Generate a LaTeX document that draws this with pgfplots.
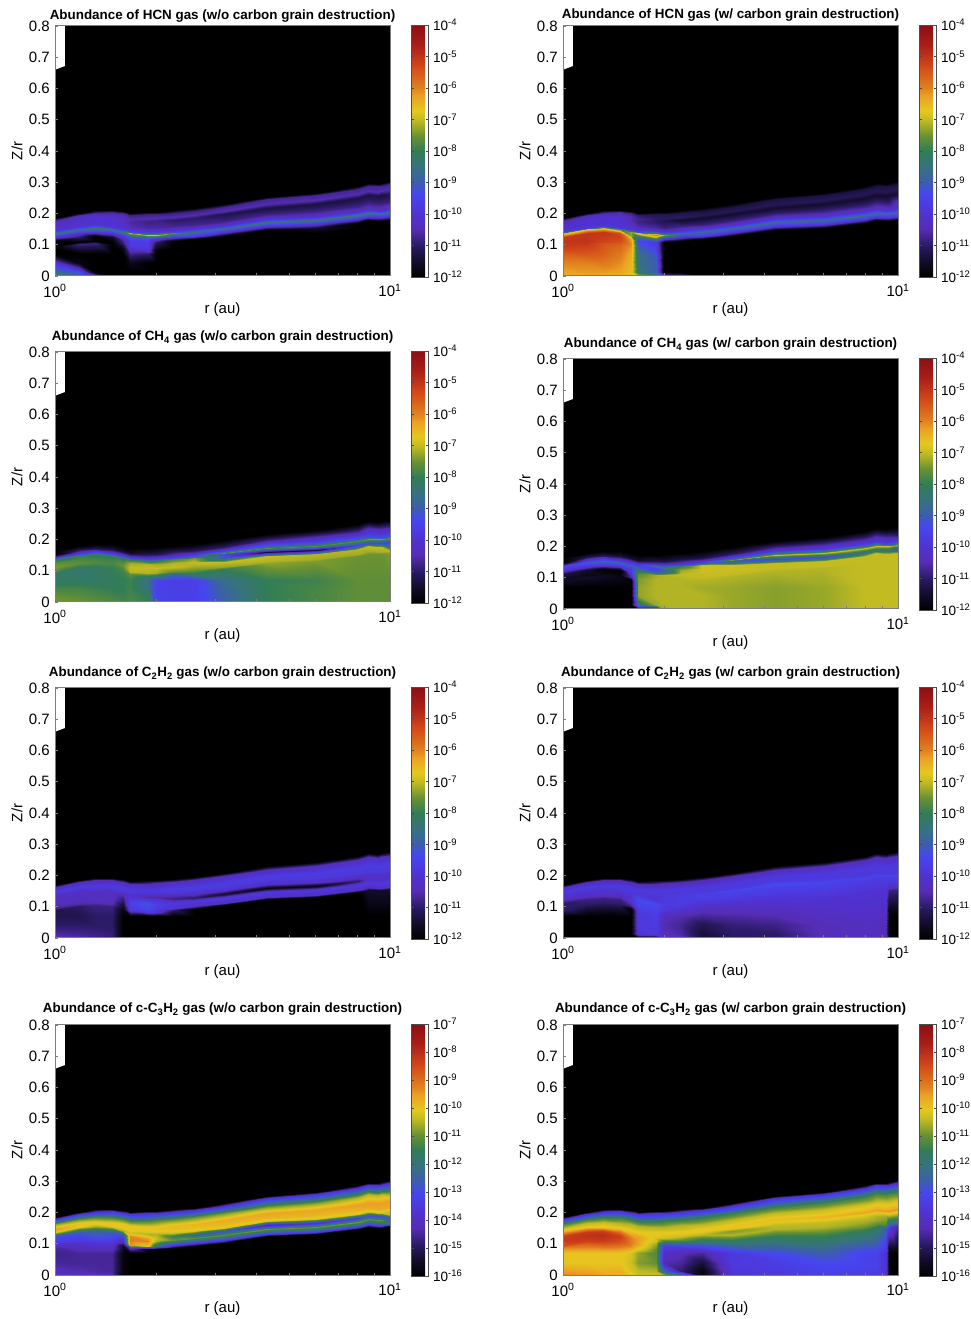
\documentclass[border=0pt]{standalone}
\usepackage{fontspec}
\setmainfont{Liberation Sans}
\usepackage{pgfplots}
\usepackage{pgfplotstable}
\pgfplotsset{compat=1.18}
\pgfplotstableread{
r z a b c d e f g h
1 0 -8.5 -6.4 -7.5 -12 -10.2 -12 -13.8 -9.3
1 .012 -8.6 -6.3 -7.5 -12 -10.6 -12 -14.1 -9.5
1 .04 -10 -6 -7.8 -12 -11 -12 -14.5 -10
1 .07 -12 -5.6 -8.2 -12 -11.2 -12 -14.6 -10
1 .088 -12 -5.2 -8.2 -11.6 -11.2 -11 -14.5 -9.3
1 .096 -12 -5.1 -7.9 -11.6 -10.7 -11 -14 -8.5
1 .112 -12 -5 -7.4 -11.3 -10.3 -11 -13.3 -8.2
1 .124 -10 -5.1 -7.6 -10 -10.3 -10.3 -13 -8.3
1 .136 -8.3 -7.2 -8.3 -9.5 -10.2 -10 -10.6 -9.2
1 .142 -9.5 -9.7 -9.6 -10.5 -10 -9.9 -9.7 -9.8
1 .148 -10 -10 -11 -12 -9.8 -9.8 -9.5 -10.2
1 .151 -10.1 -10.1 -11.8 -12 -9.8 -9.8 -9.7 -10.4
1 .163 -10.2 -10.2 -12 -12 -10.4 -10.5 -10.8 -11.3
1 .170 -10.3 -10.3 -12 -12 -12 -12 -12 -12.5
1 .178 -10.7 -10.7 -12 -12 -12 -12 -13.8 -13.8
1 .186 -12 -12 -12 -12 -12 -12 -16 -16
1.18 0 -8.8 -6.4 -7.5 -12 -10.5 -12 -14 -9.4
1.18 .012 -9.3 -6.2 -7.6 -12 -10.7 -12 -14.3 -9.6
1.18 .04 -11.8 -6 -7.8 -12 -11 -12 -14.5 -10
1.18 .07 -12 -5.5 -8.2 -12 -11.2 -12 -14.5 -10
1.18 .101 -10.8 -5.1 -8.3 -11.5 -11 -11.2 -13.8 -8.7
1.18 .109 -12 -5 -8.2 -11.7 -10.6 -11 -13.5 -8.3
1.18 .125 -11 -5 -7.6 -11.5 -10.3 -10.8 -13.2 -8.1
1.18 .137 -10 -5 -7.8 -9.9 -10.3 -10.2 -12.6 -8.2
1.18 .149 -8.2 -6.8 -8 -9 -10.2 -10 -10.6 -9.6
1.18 .155 -9.5 -9.7 -9.5 -9.6 -10 -9.9 -10.1 -10
1.18 .161 -10 -10 -10.3 -10.3 -9.8 -9.8 -10 -10.2
1.18 .165 -10 -10 -11 -11.2 -9.8 -9.8 -10 -10.4
1.18 .178 -10.1 -10 -12 -12 -10.4 -10.5 -11 -11.4
1.18 .185 -10.2 -10.1 -12 -12 -12 -12 -12.2 -12.5
1.18 .194 -10.6 -10.6 -12 -12 -12 -12 -13.8 -13.8
1.18 .202 -12 -12 -12 -12 -12 -12 -16 -16
1.32 0 -10 -6.4 -7.6 -12 -10.7 -12 -14.2 -9.5
1.32 .012 -12 -6.2 -7.7 -12 -10.8 -12 -14.4 -9.8
1.32 .04 -12 -5.9 -7.9 -12 -11 -12 -14.5 -10
1.32 .07 -12 -5.6 -8.2 -12 -11 -12 -14.5 -10
1.32 .105 -10.8 -5.4 -8.2 -11.6 -10.8 -11.2 -13.6 -8.4
1.32 .113 -12 -5.2 -8.1 -11.7 -10.5 -11 -13.3 -8.2
1.32 .129 -12 -5.1 -7.7 -12 -10.2 -10.8 -12.7 -8
1.32 .141 -10 -5 -7.9 -9.9 -10.3 -10.2 -12.5 -8.3
1.32 .153 -8.2 -6.8 -8.1 -8.8 -10.2 -10 -10.8 -10
1.32 .159 -9.5 -9.7 -9.5 -9.6 -10 -9.9 -10.3 -10.1
1.32 .165 -10 -10 -10.3 -10.3 -9.8 -9.8 -10 -10.3
1.32 .171 -10 -10 -11 -11 -9.8 -9.8 -10 -10.4
1.32 .186 -10 -10 -12 -12 -10.4 -10.5 -11.2 -11.5
1.32 .193 -10 -10.1 -12 -12 -12 -12 -12.5 -12.6
1.32 .203 -10.6 -10.6 -12 -12 -12 -12 -13.8 -13.8
1.32 .211 -12 -12 -12 -12 -12 -12 -16 -16
1.48 0 -12 -6.5 -7.7 -12 -10.9 -12 -14.3 -9.7
1.48 .012 -12 -6.3 -7.8 -12 -10.9 -12 -14.5 -9.7
1.48 .04 -12 -6.1 -8 -12 -11 -12 -14.5 -10
1.48 .07 -12 -5.9 -8.1 -12 -11 -12 -14.5 -10
1.48 .101 -12 -5.6 -8 -11.7 -10.8 -11.2 -13.7 -8.7
1.48 .109 -12 -5.4 -8 -11.8 -10.5 -11 -13.4 -8.5
1.48 .125 -11.5 -5.2 -7.8 -12 -10.3 -10.8 -12.9 -8.3
1.48 .137 -10 -5.4 -7.9 -9.9 -10.3 -10.2 -12.6 -9
1.48 .149 -8.2 -8 -8.2 -8.8 -10.2 -10 -10.8 -10
1.48 .155 -9.6 -9.8 -9.5 -9.7 -10 -9.9 -10.3 -10.1
1.48 .161 -10 -10 -10.3 -10.3 -9.8 -9.8 -10 -10.3
1.48 .168 -10 -10 -11.3 -11.3 -9.8 -9.8 -10 -10.5
1.48 .185 -10 -10 -12 -12 -10.4 -10.5 -11.3 -11.5
1.48 .193 -10.2 -10.1 -12 -12 -12 -12 -12.5 -12.6
1.48 .204 -10.7 -10.6 -12 -12 -12 -12 -13.8 -13.8
1.48 .212 -12 -12 -12 -12 -12 -12 -16 -16
1.6 0 -12 -6.7 -7.8 -12 -12 -12 -16 -10
1.6 .012 -12 -6.6 -7.9 -12 -12 -12 -15.8 -10.2
1.6 .04 -12 -6.5 -8 -12 -12 -12 -15.8 -10.3
1.6 .07 -12 -6.4 -8 -12 -12 -12 -15.8 -10.2
1.6 .093 -11.5 -6.2 -7.9 -12 -11.7 -12 -15.5 -9.3
1.6 .101 -11 -6.1 -7.8 -10.5 -11.5 -10.8 -14.5 -9.2
1.6 .117 -10.5 -6.3 -7.5 -9.8 -11 -10 -13.5 -9.2
1.6 .129 -10 -7.3 -7.7 -9.8 -10.8 -10 -13 -9.5
1.6 .141 -8.3 -7.3 -8.3 -9 -10.3 -10 -10.6 -10
1.6 .147 -9.6 -9.8 -9.6 -9.7 -10 -9.9 -10.2 -10.1
1.6 .153 -10 -10 -10.5 -10.4 -9.8 -9.8 -10 -10.3
1.6 .162 -10.2 -10.3 -11.5 -11.5 -9.8 -9.8 -10 -10.5
1.6 .179 -10.2 -10.5 -12 -12 -10.4 -10.5 -11.2 -11.6
1.6 .188 -10.3 -10.5 -12 -12 -12 -12 -12.5 -12.7
1.6 .2 -10.7 -10.8 -12 -12 -12 -12 -13.8 -13.8
1.6 .208 -12 -12 -12 -12 -12 -12 -16 -16
1.68 0 -12 -7 -7.7 -12 -12 -12 -16 -10.3
1.68 .012 -12 -8.2 -7.8 -8.5 -12 -10 -16 -10.4
1.68 .04 -11.7 -8.5 -7.9 -7.3 -12 -9.8 -16 -10.8
1.68 .07 -10.8 -8.6 -7.9 -7.3 -12 -9.8 -16 -10.7
1.68 .088 -10 -8.9 -7.6 -7.4 -9.9 -9.7 -14 -10
1.68 .096 -9.8 -9 -7.1 -7.4 -9.7 -9.6 -9.4 -9.6
1.68 .112 -9.7 -9.4 -7 -7.6 -9.6 -9.4 -9.2 -9.5
1.68 .124 -9.2 -8.5 -7.2 -8.4 -9.8 -9.3 -9.3 -9.6
1.68 .136 -7 -6.5 -8.2 -9.5 -10.2 -9.8 -10.3 -10
1.68 .142 -9.5 -9.5 -9.6 -9.7 -10 -9.9 -10.1 -10.1
1.68 .148 -10 -10 -10.5 -10.5 -9.8 -9.8 -10 -10.3
1.68 .156 -10.5 -10.5 -11.5 -11.5 -9.8 -9.8 -10 -10.5
1.68 .174 -10.6 -10.8 -12 -12 -10.4 -10.5 -11.2 -11.6
1.68 .182 -10.5 -10.7 -12 -12 -12 -12 -12.5 -12.7
1.68 .194 -10.8 -11 -12 -12 -12 -12 -13.8 -13.8
1.68 .202 -12 -12 -12 -12 -12 -12 -16 -16
1.9 0 -12 -7.5 -8 -12 -12 -12 -16 -10.3
1.9 .012 -12 -9 -8 -7.25 -12 -9.8 -16 -10.5
1.9 .04 -12 -9 -8.5 -7.1 -12 -9.7 -16 -11
1.9 .07 -11 -9.2 -8.6 -7.1 -12 -9.7 -16 -11.2
1.9 .084 -9.9 -9.5 -8 -7.1 -9.8 -9.6 -16 -11
1.9 .092 -9.7 -9.6 -7.1 -7.1 -9.4 -9.5 -10 -10.8
1.9 .108 -9.7 -9.8 -7 -7.2 -9.1 -9.3 -9.3 -10.3
1.9 .12 -9.2 -7.5 -7.1 -9.5 -9.8 -10 -9.6 -10.2
1.9 .132 -6.9 -5.8 -8.3 -9.5 -10.6 -10 -10.5 -10
1.9 .138 -9.5 -8 -9.6 -8.5 -10.3 -9.9 -10.2 -10.1
1.9 .144 -10 -10 -10.4 -10.2 -9.9 -9.8 -10 -10.3
1.9 .155 -10.6 -10.6 -11.2 -11.2 -9.8 -9.8 -10 -10.5
1.9 .174 -10.8 -11 -12 -12 -10.4 -10.5 -11.2 -11.6
1.9 .184 -10.5 -11 -12 -12 -12 -12 -12.5 -12.7
1.9 .197 -10.8 -11.2 -12 -12 -12 -12 -13.8 -13.8
1.9 .205 -12 -12 -12 -12 -12 -12 -16 -16
2 0 -12 -9.8 -9.4 -7.25 -12 -9.9 -16 -10.5
2 .012 -12 -12 -9.5 -7.1 -12 -10.4 -16 -12.5
2 .04 -12 -12 -9.5 -7.1 -12 -10.5 -16 -14.3
2 .07 -12 -12 -9.5 -7.1 -12 -10.4 -16 -14
2 .084 -12 -12 -8.3 -7.1 -10.1 -10 -16 -13.6
2 .092 -11.5 -12 -7.2 -7.1 -9.7 -9.8 -12 -13.5
2 .108 -11 -12 -7 -7.1 -9.6 -9.7 -10.5 -11.3
2 .12 -9.6 -9.5 -7.2 -9 -10 -9.8 -10.3 -10.3
2 .132 -6.9 -7.3 -8 -8.5 -10.6 -9.8 -10.5 -10.1
2 .138 -9.5 -9.5 -9.5 -9.3 -10.3 -9.8 -10.2 -10.1
2 .144 -10 -10.2 -10.3 -10.3 -9.9 -9.8 -10 -10.3
2 .155 -10.6 -10.8 -11.2 -11.3 -9.8 -9.8 -10 -10.5
2 .175 -10.8 -11.2 -12 -12 -10.4 -10.5 -11.2 -11.6
2 .185 -10.5 -11 -12 -12 -12 -12 -12.5 -12.7
2 .198 -10.8 -11.2 -12 -12 -12 -12 -13.8 -13.8
2 .206 -12 -12 -12 -12 -12 -12 -16 -16
2.25 0 -12 -10.5 -9.6 -7.1 -12 -10.3 -16 -12
2.25 .012 -12 -12 -9.6 -7.1 -12 -10.6 -16 -14.8
2.25 .04 -12 -12 -9.6 -7.1 -12 -10.7 -16 -14.5
2.25 .07 -12 -12 -9.6 -7.1 -12 -10.5 -16 -14.2
2.25 .088 -12 -12 -8.8 -7.1 -11 -10.1 -16 -13.6
2.25 .096 -12 -12 -7.6 -7.1 -10 -9.9 -13.5 -13
2.25 .112 -12 -12 -7 -7 -9.8 -9.7 -11 -11
2.25 .124 -9.8 -10 -7.1 -7.25 -10.8 -9.7 -11.5 -10.3
2.25 .136 -7.6 -8.5 -7.8 -8 -10.4 -9.7 -10.3 -10
2.25 .142 -9.6 -9.6 -9.4 -9.5 -10.1 -9.8 -10.1 -10.1
2.25 .148 -10.2 -10.2 -10.2 -10.3 -9.8 -9.8 -9.9 -10.3
2.25 .159 -10.7 -10.8 -11 -11.3 -9.7 -9.8 -9.9 -10.5
2.25 .179 -11 -11.5 -12 -12 -10.3 -10.5 -11.1 -11.6
2.25 .189 -10.5 -11 -12 -12 -12 -12 -12.4 -12.7
2.25 .202 -10.8 -11.2 -12 -12 -12 -12 -13.8 -13.8
2.25 .21 -12 -12 -12 -12 -12 -12 -16 -16
2.6 0 -12 -12 -9.6 -7.1 -12 -11.3 -16 -15.8
2.6 .012 -12 -12 -9.6 -7.1 -12 -11.4 -16 -15.8
2.6 .04 -12 -12 -9.6 -7.1 -12 -11.2 -16 -15.3
2.6 .07 -12 -12 -9.6 -7.2 -12 -10.7 -16 -14.5
2.6 .093 -12 -12 -8 -7.1 -12 -10.3 -16 -13
2.6 .101 -12 -12 -7.5 -7 -10.2 -10.1 -13.5 -12.2
2.6 .117 -12 -12 -7.1 -6.95 -9.8 -9.8 -11 -11.2
2.6 .129 -9.8 -9.9 -7 -6.9 -11 -9.6 -12.5 -10.5
2.6 .141 -8.6 -8.6 -7.4 -6.95 -10.3 -9.6 -10.2 -10
2.6 .147 -9.6 -9.5 -9.2 -9.4 -10 -9.8 -10 -10
2.6 .153 -10.2 -10.1 -10 -10.2 -9.8 -9.8 -9.9 -10.2
2.6 .164 -10.7 -10.8 -11 -11.2 -9.7 -9.8 -9.8 -10.5
2.6 .185 -11 -11.5 -12 -12 -10.3 -10.5 -11 -11.6
2.6 .195 -10.5 -11.1 -12 -12 -12 -12 -12.4 -12.7
2.6 .208 -10.8 -11.3 -12 -12 -12 -12 -13.8 -13.8
2.6 .216 -12 -12 -12 -12 -12 -12 -16 -16
3.2 0 -12 -12 -8.9 -7.25 -12 -11 -16 -13.6
3.2 .012 -12 -12 -8.9 -7.25 -12 -11 -16 -13.6
3.2 .04 -12 -12 -8.8 -7.25 -12 -10.9 -16 -13.5
3.2 .07 -12 -12 -8.6 -7.25 -12 -10.6 -16 -13.5
3.2 .104 -12 -12 -8 -7.1 -12 -10.2 -16 -12
3.2 .112 -12 -12 -7.3 -7 -10.2 -10 -13.5 -11.5
3.2 .128 -12 -12 -7 -6.95 -9.8 -9.8 -11 -10.5
3.2 .14 -10 -9.9 -9 -6.95 -11.5 -9.6 -13 -10.8
3.2 .152 -8.5 -8.6 -9.5 -9.4 -10.2 -9.4 -10.2 -10
3.2 .158 -9.6 -9.5 -7.5 -7.4 -10 -9.8 -10 -10
3.2 .164 -10.2 -10.1 -9.5 -9.5 -9.8 -9.8 -9.8 -10.1
3.2 .176 -10.8 -10.8 -11 -11 -9.7 -9.8 -9.7 -10.4
3.2 .197 -11.2 -11.5 -12 -12 -10.3 -10.5 -10.9 -11.5
3.2 .207 -10.5 -11.1 -12 -12 -12 -12 -12.3 -12.7
3.2 .221 -10.7 -11.3 -12 -12 -12 -12 -13.8 -13.8
3.2 .229 -12 -12 -12 -12 -12 -12 -16 -16
4.3 0 -12 -12 -8 -7.35 -12 -11 -16 -13.5
4.3 .012 -12 -12 -8 -7.35 -12 -11 -16 -13.5
4.3 .04 -12 -12 -8 -7.35 -12 -10.8 -16 -13.4
4.3 .07 -12 -12 -8 -7.35 -12 -10.5 -16 -13
4.3 .124 -12 -12 -7.3 -7.1 -12 -10 -16 -11.5
4.3 .132 -12 -12 -7.1 -7 -10.2 -9.9 -13.5 -11.2
4.3 .148 -12 -12 -7 -7 -9.8 -9.7 -10.9 -10.5
4.3 .16 -10 -9.9 -11.5 -9.5 -11.8 -9.6 -14.5 -10.4
4.3 .172 -8.3 -8.6 -7.6 -6.95 -10.2 -9.3 -10.2 -10
4.3 .178 -9.6 -9.5 -9 -8.5 -10 -9.6 -10 -9.9
4.3 .184 -10.2 -10.1 -9.6 -9.7 -9.8 -9.8 -9.8 -10
4.3 .198 -10.8 -10.8 -10.8 -10.8 -9.7 -9.8 -9.6 -10.4
4.3 .219 -11.3 -11.5 -12 -12 -10.3 -10.4 -10.8 -11.4
4.3 .23 -10.5 -11.1 -12 -12 -12 -12 -12.2 -12.6
4.3 .245 -10.7 -11.3 -12 -12 -12 -12 -13.8 -13.8
4.3 .253 -12 -12 -12 -12 -12 -12 -16 -16
6 0 -12 -12 -7.8 -7.25 -12 -10.4 -16 -13.3
6 .012 -12 -12 -7.8 -7.25 -12 -10.4 -16 -13.2
6 .04 -12 -12 -7.8 -7.25 -12 -10.4 -16 -13
6 .07 -12 -12 -7.9 -7.25 -12 -10.3 -16 -12.6
6 .131 -12 -12 -7.4 -7.1 -12 -10 -16 -11.3
6 .139 -12 -12 -7.2 -7 -10.2 -9.9 -13.5 -11
6 .155 -11.5 -12 -7.1 -7 -9.8 -9.7 -10.9 -10.5
6 .167 -10 -9.9 -11.5 -9.5 -11.8 -9.6 -14 -10.4
6 .179 -8.3 -8.6 -7.6 -6.95 -10.2 -9.4 -10.2 -10
6 .185 -9.6 -9.5 -8.8 -8.5 -10 -9.7 -10 -9.8
6 .191 -10.2 -10.1 -9.5 -9.7 -9.8 -9.8 -9.8 -10
6 .207 -10.8 -10.8 -10.5 -10.7 -9.7 -9.8 -9.6 -10.3
6 .23 -11.3 -11.5 -12 -12 -10.3 -10.4 -10.8 -11.3
6 .242 -10.5 -11.1 -12 -12 -12 -12 -12.2 -12.4
6 .258 -10.7 -11.3 -12 -12 -12 -12 -13.8 -13.8
6 .266 -12 -12 -12 -12 -12 -12 -16 -16
8 0 -12 -12 -7.6 -7 -12 -10.3 -16 -13.4
8 .012 -12 -12 -7.6 -7 -12 -10.3 -16 -13.3
8 .04 -12 -12 -7.6 -7 -12 -10.3 -16 -13.2
8 .07 -12 -12 -7.6 -7 -12 -10.2 -16 -13.2
8 .147 -12 -12 -7.5 -7 -12 -10 -16 -11.4
8 .155 -12 -12 -7.2 -7 -10.2 -9.9 -13.5 -11
8 .171 -12 -12 -7.1 -7 -9.8 -9.8 -10.8 -10.6
8 .183 -10 -9.9 -9.7 -8.5 -11 -9.7 -13.5 -10.4
8 .195 -8.3 -8.6 -7.6 -6.95 -10.2 -9.5 -10.2 -10
8 .201 -9.6 -9.5 -9 -8.5 -10 -9.8 -10 -9.6
8 .207 -10.2 -10.1 -9.6 -9.7 -9.8 -9.8 -9.8 -9.9
8 .224 -10.8 -10.8 -10.6 -10.6 -9.7 -9.8 -9.5 -10.2
8 .25 -11.3 -11.5 -12 -12 -10.3 -10.4 -10.6 -11.3
8 .262 -10.5 -11.1 -12 -12 -12 -12 -12 -12.3
8 .279 -10.7 -11.3 -12 -12 -12 -12 -13.8 -13.8
8 .287 -12 -12 -12 -12 -12 -12 -16 -16
8.6 0 -12 -12 -7.6 -7 -12 -10.3 -16 -13.4
8.6 .012 -12 -12 -7.6 -7 -12 -10.3 -16 -13.3
8.6 .04 -12 -12 -7.6 -7 -12 -10.3 -16 -13.2
8.6 .07 -12 -12 -7.6 -7 -12 -10.2 -16 -13.2
8.6 .154 -12 -12 -7.5 -7 -11.5 -10 -16 -11.6
8.6 .162 -12 -12 -7.2 -7 -10.2 -9.9 -13 -11
8.6 .178 -12 -12 -7 -7 -9.8 -9.8 -11 -10.6
8.6 .19 -10 -9.9 -9.5 -8.5 -10.2 -9.7 -13 -10.5
8.6 .202 -8.3 -8.6 -7.4 -6.95 -10.2 -9.5 -10.3 -10
8.6 .208 -9.6 -9.5 -9.2 -8.5 -10 -9.8 -10 -9.5
8.6 .214 -10.2 -10.1 -9.6 -9.7 -9.8 -9.8 -9.7 -9.8
8.6 .232 -10.8 -10.8 -10.3 -10.6 -9.7 -9.8 -9.5 -10.2
8.6 .258 -11.3 -11.5 -12 -12 -10.3 -10.4 -10.5 -11.2
8.6 .271 -10.5 -11.1 -12 -12 -12 -12 -12 -12.2
8.6 .288 -10.7 -11.3 -12 -12 -12 -12 -13.8 -13.8
8.6 .296 -12 -12 -12 -12 -12 -12 -16 -16
9.2 0 -12 -12 -7.6 -7 -12 -10.5 -16 -13.8
9.2 .012 -12 -12 -7.6 -7 -12 -10.5 -16 -13.8
9.2 .04 -12 -12 -7.6 -7 -12 -10.5 -16 -13.8
9.2 .07 -12 -12 -7.6 -7 -12 -10.3 -16 -13.8
9.2 .152 -12 -12 -7.5 -7 -11.5 -10 -16 -12.5
9.2 .16 -12 -12 -7.2 -7 -10.2 -9.9 -13 -11.2
9.2 .176 -12 -12 -7 -7 -9.8 -9.8 -11 -10.8
9.2 .188 -10 -9.9 -9.5 -8.5 -10.2 -9.7 -13 -10.6
9.2 .2 -8.3 -8.6 -7.4 -6.95 -10.2 -9.5 -10.3 -10
9.2 .206 -9.6 -9.5 -9.2 -8.5 -10 -9.8 -10 -9.5
9.2 .212 -10.2 -10.1 -9.6 -9.7 -9.8 -9.8 -9.7 -9.8
9.2 .23 -10.8 -10.8 -10.3 -10.6 -9.7 -9.8 -9.5 -10.2
9.2 .257 -11.3 -11.5 -12 -12 -10.3 -10.4 -10.5 -11.2
9.2 .27 -10.5 -11.1 -12 -12 -12 -12 -12 -12.2
9.2 .287 -10.7 -11.3 -12 -12 -12 -12 -13.8 -13.8
9.2 .295 -12 -12 -12 -12 -12 -12 -16 -16
9.4 0 -12 -12 -7.6 -7 -12 -12 -16 -16
9.4 .012 -12 -12 -7.6 -7 -12 -12 -16 -16
9.4 .04 -12 -12 -7.6 -7 -12 -12 -16 -16
9.4 .07 -12 -12 -7.6 -7 -12 -12 -16 -16
9.4 .152 -12 -12 -7.5 -7 -11.5 -10.8 -16 -13.5
9.4 .16 -12 -12 -7.2 -7 -10.2 -10.3 -13 -12.8
9.4 .176 -12 -12 -7 -7 -9.8 -9.9 -11 -11.5
9.4 .188 -10 -9.9 -9.5 -8.5 -10.2 -9.7 -13 -10.6
9.4 .2 -8.3 -8.6 -7.4 -6.95 -10.2 -9.5 -10.3 -10
9.4 .206 -9.6 -9.5 -9.2 -8.5 -10 -9.8 -10 -9.4
9.4 .212 -10.2 -10.1 -9.6 -9.7 -9.8 -9.8 -9.7 -9.7
9.4 .231 -10.8 -10.8 -10.3 -10.6 -9.7 -9.8 -9.5 -10.2
9.4 .258 -11.3 -11.5 -12 -12 -10.3 -10.4 -10.5 -11.2
9.4 .271 -10.5 -11.1 -12 -12 -12 -12 -12 -12.2
9.4 .289 -10.7 -11.3 -12 -12 -12 -12 -13.8 -13.8
9.4 .297 -12 -12 -12 -12 -12 -12 -16 -16
10 0 -12 -12 -7.6 -7 -12 -12 -16 -16
10 .012 -12 -12 -7.6 -7 -12 -12 -16 -16
10 .04 -12 -12 -7.6 -7 -12 -12 -16 -16
10 .07 -12 -12 -7.6 -7 -12 -12 -16 -16
10 .156 -12 -12 -7.4 -7 -11.5 -10.8 -16 -14.5
10 .164 -12 -12 -7.1 -7 -10.2 -10.3 -12.5 -12.5
10 .18 -12 -12 -8.5 -7 -9.8 -9.9 -13 -11.6
10 .192 -10 -9.9 -9.7 -9.5 -10.2 -9.7 -10.5 -10.7
10 .204 -8.3 -8.6 -7.3 -7 -10.2 -9.5 -10.3 -10
10 .21 -9.6 -9.5 -9.3 -8.5 -10 -9.8 -10 -9.4
10 .216 -10 -10 -9.6 -9.7 -9.8 -9.8 -9.7 -9.7
10 .236 -10.8 -10.3 -10.5 -11 -9.7 -9.8 -9.5 -10.2
10 .263 -11.2 -11.5 -12 -12 -10.3 -10.4 -10.8 -11.2
10 .277 -10.5 -11.1 -12 -12 -12 -12 -12 -12.2
10 .295 -10.7 -11.3 -12 -12 -12 -12 -13.8 -13.8
10 .303 -12 -12 -12 -12 -12 -12 -16 -16
}\abund
\definecolor{framegray}{RGB}{125,125,125}
\newcommand\Tfont{\fontsize{13.4}{13.4}\selectfont\bfseries}
\newcommand\Lfont{\fontsize{15}{15}\selectfont}
\newcommand\Cfont{\fontsize{13.5}{13.5}\selectfont}
\newcommand\ee[1]{10\textsuperscript{#1}}
\pgfplotsset{
  colormap={abund}{rgb255(0)=(0,0,0);rgb255(6)=(18,12,40);rgb255(12)=(40,25,95);rgb255(19)=(85,45,180);rgb255(25)=(80,50,210);rgb255(33)=(70,70,240);rgb255(38)=(60,95,170);rgb255(44)=(55,115,125);rgb255(50)=(50,125,85);rgb255(56)=(105,145,50);rgb255(62)=(190,185,35);rgb255(66)=(230,200,30);rgb255(72)=(235,160,35);rgb255(75)=(225,130,30);rgb255(84)=(210,70,25);rgb255(92)=(170,30,25);rgb255(100)=(140,15,20)},
  cbA/.style={ytick={-12,-11,-10,-9,-8,-7,-6,-5,-4},yticklabels={\ee{-12},\ee{-11},\ee{-10},\ee{-9},\ee{-8},\ee{-7},\ee{-6},\ee{-5},\ee{-4}}},
  cbB/.style={ytick={-16,-15,-14,-13,-12,-11,-10,-9,-8,-7},yticklabels={\ee{-16},\ee{-15},\ee{-14},\ee{-13},\ee{-12},\ee{-11},\ee{-10},\ee{-9},\ee{-8},\ee{-7}}},
}
% args: x, y, title, title offset, data column, meta min, meta max, colorbar ticks style
\newcommand\panel[8]{%
\begin{axis}[anchor=south west,at={(#1pt,#2pt)},width=335pt,height=250pt,scale only axis,
 xmode=log,xmin=1,xmax=10,ymin=0,ymax=.8,axis on top,
 axis background/.style={fill=black},
 axis line style={framegray,line width=1pt},
 tick style={framegray,line width=.6pt},tick align=inside,
 major tick length=3pt,minor tick length=2.5pt,
 xtick pos=bottom,ytick pos=left,
 xtick={1,10},xticklabels={\ee{0},\ee{1}},minor xtick={2,3,4,5,6,7,8,9},
 ytick={0,.1,.2,.3,.4,.5,.6,.7,.8},yticklabels={0,0.1,0.2,0.3,0.4,0.5,0.6,0.7,0.8},
 ticklabel style={font=\Lfont},
 xticklabel style={yshift=-5pt},
 yticklabel style={xshift=-3pt,inner sep=2pt},
 xlabel={r (au)},xlabel style={font=\Lfont,at={(.5,0)},anchor=center,yshift=-34pt},
 ylabel={Z/r},ylabel style={font=\Lfont,at={(0,.5)},anchor=center,yshift=38pt},
 title={#3},title style={font=\Tfont,at={(.5,1)},anchor=center,yshift=#4pt},
 point meta min=#6,point meta max=#7,colormap name=abund,
 colorbar,colorbar style={at={(1.0627,1.004)},anchor=north west,
   width=17pt,height=252pt,scale only axis,
   axis line style={black!70,line width=.6pt},
   #8,tick style={black!70,line width=.5pt},major tick length=2.5pt,tick align=inside,
   yticklabel style={font=\Cfont,inner sep=2pt,xshift=3pt}},
]
\addplot[surf,shader=interp,mesh/rows=16,mesh/cols=18,mesh/ordering=y varies,point meta=explicit]
  table[x=r,y=z,meta=#5] {\abund};
\addplot[fill=white,draw=none] coordinates {(1,.8) (1.071,.8) (1.071,.672) (1,.66)} --cycle;
\end{axis}}
\begin{document}
\begin{tikzpicture}[x=1pt,y=1pt]
\path[use as bounding box] (0,0) rectangle (971,1319);
\panel{55}{1043}{Abundance of HCN gas (w/o carbon grain destruction)}{4}{a}{-12}{-4}{cbA}
\panel{563}{1043}{Abundance of HCN gas (w/ carbon grain destruction)}{4.5}{b}{-12}{-4}{cbA}
\panel{55}{717}{Abundance of CH\textsubscript{4} gas (w/o carbon grain destruction)}{8.5}{c}{-12}{-4}{cbA}
\panel{563}{710}{Abundance of CH\textsubscript{4} gas (w/ carbon grain destruction)}{8.5}{d}{-12}{-4}{cbA}
\panel{55}{381}{Abundance of C\textsubscript{2}H\textsubscript{2} gas (w/o carbon grain destruction)}{8.5}{e}{-12}{-4}{cbA}
\panel{563}{381}{Abundance of C\textsubscript{2}H\textsubscript{2} gas (w/ carbon grain destruction)}{8.5}{f}{-12}{-4}{cbA}
\panel{55}{44}{Abundance of c-C\textsubscript{3}H\textsubscript{2} gas (w/o carbon grain destruction)}{9.5}{g}{-16}{-7}{cbB}
\panel{563}{44}{Abundance of c-C\textsubscript{3}H\textsubscript{2} gas (w/ carbon grain destruction)}{9.5}{h}{-16}{-7}{cbB}
\end{tikzpicture}
\end{document}
